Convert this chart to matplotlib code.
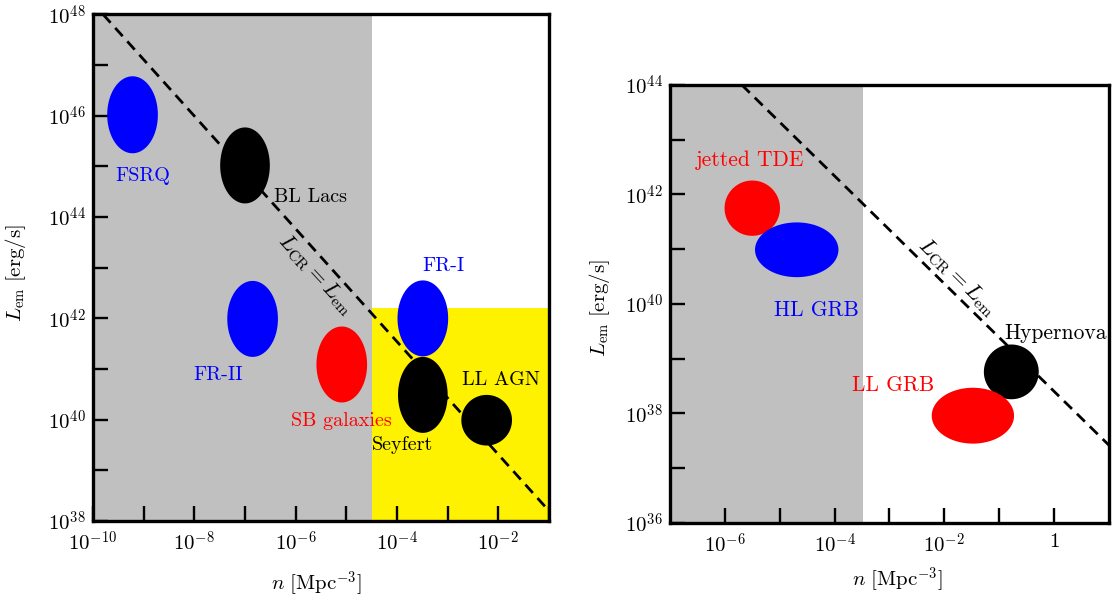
import numpy as np
import matplotlib
matplotlib.use('Agg')
import matplotlib.pyplot as plt
from matplotlib.ticker import FixedLocator, FuncFormatter, NullLocator

plt.rcParams['mathtext.fontset'] = 'cm'
plt.rcParams['font.family'] = ['cmr10', 'DejaVu Serif']
plt.rcParams['axes.formatter.use_mathtext'] = True
plt.rcParams['axes.unicode_minus'] = False

# ---------------- Left panel: AGN & galaxies (log10 values) ----------------
agn_names = ['FSRQ', 'BL Lacs', 'FR-II', 'SB galaxies', 'FR-I', 'Seyfert', 'LL AGN']
agn_log_n = [-9.22, -7.00, -6.85, -5.09, -3.49, -3.49, -2.23]
agn_log_L = [46.02, 45.02, 41.99, 41.09, 42.00, 40.49, 39.99]
agn_dlog_n = [0.50, 0.49, 0.50, 0.50, 0.50, 0.49, 0.50]
agn_dlog_L = [0.76, 0.75, 0.75, 0.75, 0.75, 0.75, 0.50]
agn_colors = ['blue', 'black', 'blue', 'red', 'blue', 'black', 'black']
agn_label_colors = ['blue', 'black', 'blue', 'red', 'blue', 'black', 'black']
agn_label_log_n = [-9.01, -5.70, -7.53, -5.09, -3.08, -3.89, -1.95]
agn_label_log_L = [44.81, 44.40, 40.89, 39.97, 43.03, 39.51, 40.79]

left_line_log_n = [-9.80, -1.0]
left_line_log_L = [48.0, 38.2]
left_gray_max_log_n = -4.49
left_yellow_max_log_L = 42.20

left_xticks = list(range(-10, 0))
left_yticks = list(range(38, 49))

# ---------------- Right panel: transients (log10 values) ----------------
tr_names = ['jetted TDE', 'HL GRB', 'Hypernova', 'LL GRB']
tr_log_n = [-5.50, -4.69, -0.78, -1.48]
tr_log_L = [41.75, 40.99, 38.76, 37.96]
tr_dlog_n = [0.505, 0.76, 0.50, 0.75]
tr_dlog_L = [0.505, 0.50, 0.50, 0.51]
tr_colors = ['red', 'blue', 'black', 'red']
tr_label_colors = ['red', 'blue', 'black', 'red']
tr_label_log_n = [-5.54, -4.33, 0.03, -2.94]
tr_label_log_L = [42.63, 39.89, 39.46, 38.52]

right_line_log_n = [-5.69, 1.0]
right_line_log_L = [44.0, 37.42]
right_gray_max_log_n = -3.48

right_xticks = list(range(-6, 1))
right_yticks = list(range(36, 45))

GRAY = '#c0c0c0'
YELLOW = '#fff200'

fig = plt.figure(figsize=(11.14, 6.01), dpi=100)
axL = fig.add_axes([0.0835, 0.1331, 0.4093, 0.8428])
axR = fig.add_axes([0.6014, 0.1298, 0.3941, 0.7288])


def ellipse(ax, lx, ly, dx, dy, color):
    t = np.linspace(0, 2 * np.pi, 200)
    ax.fill(10 ** (lx + dx * np.cos(t)), 10 ** (ly + dy * np.sin(t)),
            color=color, lw=0, zorder=3)


def fmt(v, pos):
    e = int(round(np.log10(v)))
    if e % 2 != 0:
        return ''
    if e == 0:
        return r'$1$'
    return r'$10^{%d}$' % e


def style(ax, xt, yt):
    ax.set_xscale('log')
    ax.set_yscale('log')
    ax.xaxis.set_major_locator(FixedLocator([10.0 ** e for e in xt]))
    ax.yaxis.set_major_locator(FixedLocator([10.0 ** e for e in yt]))
    ax.xaxis.set_minor_locator(NullLocator())
    ax.yaxis.set_minor_locator(NullLocator())
    ax.xaxis.set_major_formatter(FuncFormatter(fmt))
    ax.yaxis.set_major_formatter(FuncFormatter(fmt))
    ax.tick_params(which='major', direction='in', length=11, width=1.7,
                   labelsize=15, top=False, right=False)
    ax.tick_params(axis='x', pad=7)
    ax.tick_params(axis='y', pad=5)
    for s in ax.spines.values():
        s.set_linewidth(2.4)
        s.set_zorder(10)
    ax.set_xlabel(r'$n\ [\mathrm{Mpc}^{-3}]$', fontsize=15)
    ax.set_ylabel(r'$L_{\rm em}\ [\mathrm{erg/s}]$', fontsize=15)


# ---- Left panel ----
axL.set_xlim(1e-10, 1e-1)
axL.set_ylim(1e38, 1e48)
axL.axvspan(1e-10, 10 ** left_gray_max_log_n, color=GRAY, lw=0, zorder=0)
axL.fill_between([10 ** left_gray_max_log_n, 1e-1], 1e38, 10 ** left_yellow_max_log_L,
                 color=YELLOW, lw=0, zorder=0)
axL.plot(10 ** np.array(left_line_log_n), 10 ** np.array(left_line_log_L),
         color='black', ls=(0, (4, 2.5)), lw=2.0, zorder=2)
for i in range(len(agn_names)):
    ellipse(axL, agn_log_n[i], agn_log_L[i], agn_dlog_n[i], agn_dlog_L[i], agn_colors[i])
    axL.text(10 ** agn_label_log_n[i], 10 ** agn_label_log_L[i], agn_names[i],
             color=agn_label_colors[i], fontsize=14.5, ha='center', va='center', zorder=5)
axL.text(10 ** -5.60, 10 ** 42.86, r'$L_{\rm CR}=L_{\rm em}$', fontsize=16,
         rotation=-47.4, ha='center', va='center', zorder=5)
style(axL, left_xticks, left_yticks)
axL.xaxis.set_label_coords(0.49, -0.095)
axL.yaxis.set_label_coords(-0.1425, 0.49)

# ---- Right panel ----
axR.set_xlim(1e-7, 1e1)
axR.set_ylim(1e36, 1e44)
axR.axvspan(1e-7, 10 ** right_gray_max_log_n, color=GRAY, lw=0, zorder=0)
axR.plot(10 ** np.array(right_line_log_n), 10 ** np.array(right_line_log_L),
         color='black', ls=(0, (4, 2.5)), lw=2.0, zorder=2)
for i in range(len(tr_names)):
    ellipse(axR, tr_log_n[i], tr_log_L[i], tr_dlog_n[i], tr_dlog_L[i], tr_colors[i])
    axR.text(10 ** tr_label_log_n[i], 10 ** tr_label_log_L[i], tr_names[i],
             color=tr_label_colors[i], fontsize=15.5, ha='center', va='center', zorder=5)
axR.text(10 ** -1.77, 10 ** 40.49, r'$L_{\rm CR}=L_{\rm em}$', fontsize=16,
         rotation=-44.5, ha='center', va='center', zorder=5)
style(axR, right_xticks, right_yticks)
axR.xaxis.set_label_coords(0.517, -0.095)
axR.yaxis.set_label_coords(-0.132, 0.49)

fig.savefig('out.png', dpi=100)
